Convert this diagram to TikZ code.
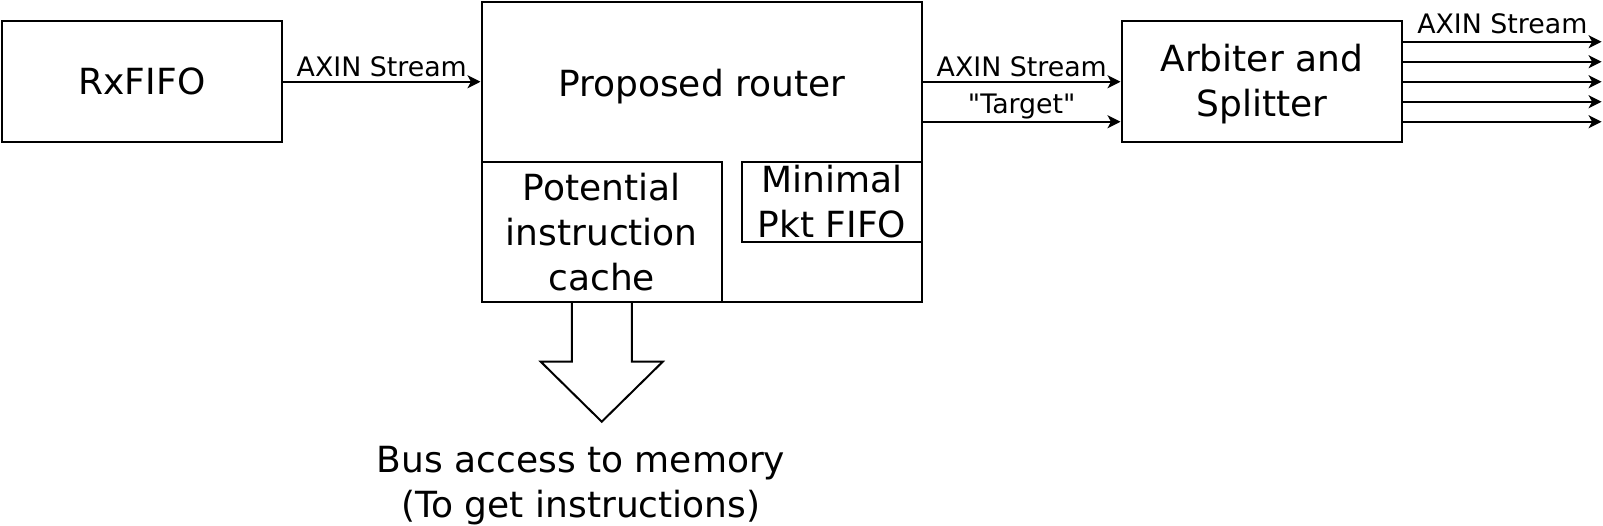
\documentclass[tikz,border=0pt]{standalone}
\usepackage{fontspec}
\setmainfont{DejaVu Sans}[Ligatures=TeXOff]
\usetikzlibrary{arrows.meta,positioning,calc}

\begin{document}
\begin{tikzpicture}[x=1pt, y=-1pt, line width=2pt,
    every node/.style={font=\fontsize{36}{45}\selectfont},
    block/.style={draw, rectangle, inner sep=0pt, align=center},
    lbl/.style={font=\fontsize{26.8}{32}\selectfont, inner sep=0pt},
    conn/.style={-{Stealth[length=13pt,width=13pt,inset=3.5pt]}}]
    \useasboundingbox (0,0) rectangle (1603,526);

    % Input FIFO
    \node[block, minimum width=280pt, minimum height=120.5pt] (rxfifo) at (142,81.75) {RxFIFO};

    % Router with its inner blocks
    \node[block, minimum width=440.5pt, minimum height=299.6pt] (router) at (701.75,151.8) {};
    \node (routertxt) at (701.75,86.5) {Proposed router};
    \node[block, minimum width=240.5pt, minimum height=140pt] (cache) at (601.75,231.6) {Potential\\instruction\\cache};
    \node[block, minimum width=180pt, minimum height=80.7pt] (pktfifo) at (832,202) {Minimal\\Pkt FIFO};

    % Arbiter
    \node[block, minimum width=280.5pt, minimum height=120.5pt] (arbiter) at (1261.75,81.75) {};
    \node[align=center] (arbitertxt) at (1261.75,84) {Arbiter and\\Splitter};

    % Memory side
    \node[align=center] (bus) at (581,486) {Bus access to memory\\(To get instructions)};
    \draw (571.75,301.6) -- (571.75,361.7) -- (540.75,361.7) -- (601.75,421.7)
        -- (662.75,361.7) -- (631.75,361.7) -- (631.75,301.6);

    % Streams
    \draw[conn] (rxfifo.east) -- (rxfifo.east -| router.west) node[lbl, midway, above=3.5pt] {AXIN Stream};
    \coordinate (tgt) at ([yshift=-40pt]arbiter.west);
    \draw[conn] (router.east |- arbiter.west) -- (arbiter.west) node[lbl, midway, above=3.5pt] {AXIN Stream};
    \draw[conn] (router.east |- tgt) -- (tgt) node[lbl, midway, above=1.8pt] {"Target"};

    % Outputs
    \foreach \k/\yy in {1/41.75,2/61.75,3/81.75,4/101.75,5/121.75} {
        \coordinate (out\k) at (1601.6,\yy);
        \draw[conn] (arbiter.east |- out\k) -- (out\k);
    }
    \path (arbiter.east |- out1) -- (out1) node[lbl, midway, above=7pt] {AXIN Stream};
\end{tikzpicture}
\end{document}
